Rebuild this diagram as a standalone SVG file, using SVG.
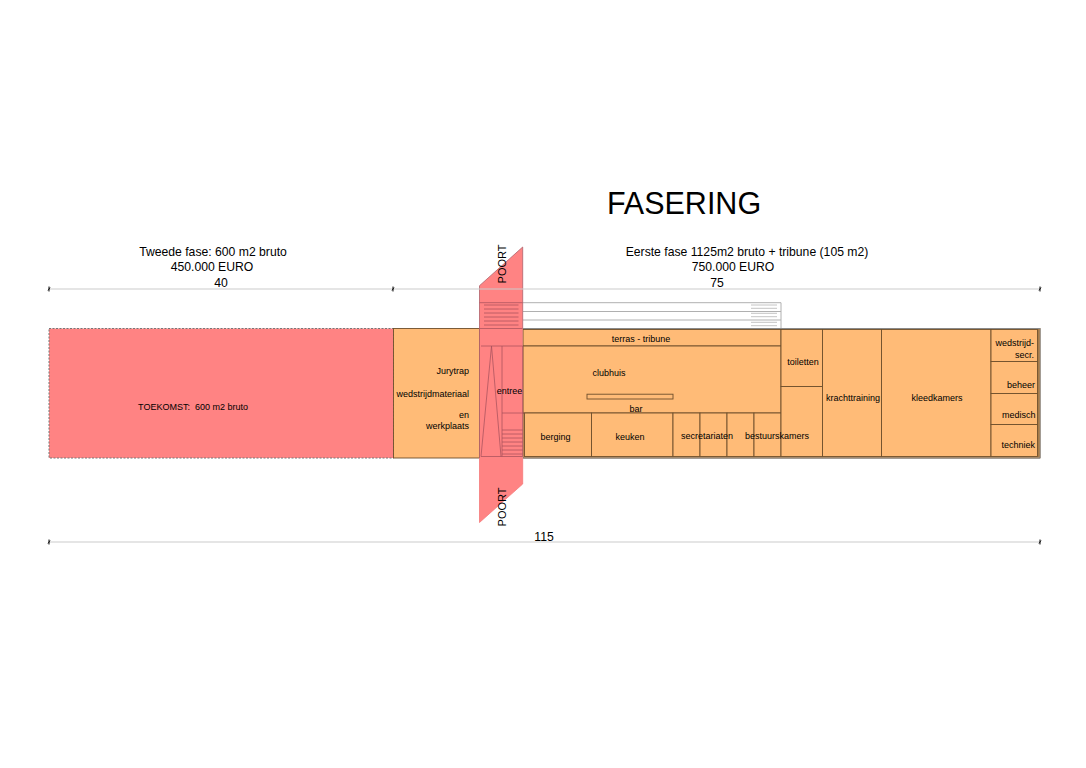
<svg xmlns="http://www.w3.org/2000/svg" width="1086" height="768" viewBox="0 0 1086 768">
<style>
text{font-family:"Liberation Sans",Arial,sans-serif;fill:#000;text-anchor:middle}
.s{font-size:9px}
.m{font-size:12.2px}
.p{font-size:11px}
.e{text-anchor:end}
.room{fill:#ffbb77;stroke:#6e4f2c;stroke-width:.9}
.red{fill:#ff8383}
.rl{fill:none;stroke:#a8525c;stroke-width:.75}
.dim{stroke:#cccccc;stroke-width:1.2;fill:none}
.tick{stroke:#111;stroke-width:1;fill:none}
.tr{stroke:#b0b0b0;stroke-width:1;fill:none}
.st{stroke:#c4c4c4;stroke-width:1;fill:none}
</style>
<g id="toekomst">
<rect x="49" y="328.5" width="344.500" height="129.500" class="red"/>
<rect x="49" y="328.5" width="344.500" height="129.500" fill="none" stroke="#777" stroke-width="1" stroke-dasharray="2 1.500"/>
<text class="s" x="193" y="410" xml:space="preserve">TOEKOMST:  600 m2 bruto</text>
</g>
<g id="jurytrap">
<rect x="393.500" y="328.500" width="86" height="129.500" class="room"/>
<text class="s e" x="469" y="374">Jurytrap</text>
<text class="s e" x="469" y="396.500">wedstrijdmateriaal</text>
<text class="s e" x="469" y="418">en</text>
<text class="s e" x="469" y="428.500">werkplaats</text>
</g>
<g id="hoofdvolume">
<rect x="523" y="328.500" width="517" height="129.500" class="room" stroke-width="1.200"/>
<path d="M523 328.500H1040V458H523" fill="none" stroke="#8a8a8a" stroke-width="1"/>
<path d="M1038.500 329V457" stroke="#a57a48" stroke-width="2" fill="none"/>
</g>
<g id="tribune-trappen">
<path class="tr" d="M523 302.700H781V328M523 311.500H781M523 320H781"/>
<path class="st" d="M751 305H777M751 308.300H777M751 313.300H777M751 316.700H777M751 322.300H777M751 325.700H777"/>
</g>
<g id="terras">
<rect x="523" y="329.500" width="258" height="16.500" class="room"/>
<text class="s" x="641" y="342">terras - tribune</text>
</g>
<g id="clubhuis">
<rect x="523" y="346" width="258" height="67" class="room"/>
<text class="s" x="609" y="376">clubhuis</text>
<rect x="587" y="394.200" width="86" height="4.800" class="room"/>
<text class="s" x="636" y="412">bar</text>
</g>
<g id="berging"><rect x="524.500" y="413" width="67" height="43.500" class="room"/><text class="s" x="555.500" y="439.500">berging</text></g>
<g id="keuken"><rect x="591.500" y="413" width="81.500" height="43.500" class="room"/><text class="s" x="630" y="439.500">keuken</text></g>
<g id="secretariaat-1"><rect x="673" y="413" width="27" height="43.500" class="room"/></g>
<g id="secretariaat-2"><rect x="700" y="413" width="27" height="43.500" class="room"/></g>
<g id="bestuur-1"><rect x="727" y="413" width="27" height="43.500" class="room"/></g>
<g id="bestuur-2"><rect x="754" y="413" width="27" height="43.500" class="room"/></g>
<g id="toiletten"><rect x="781" y="329.500" width="41.500" height="57" class="room"/><text class="s" x="803" y="364.500">toiletten</text></g>
<g id="bestuurskamers"><rect x="781" y="386.500" width="41.500" height="70" class="room"/><text class="s" x="777" y="439">bestuurskamers</text></g>
<g id="secretariaten-label"><text class="s" x="707" y="439">secretariaten</text></g>
<g id="krachttraining"><rect x="822.500" y="329.500" width="59" height="127" class="room"/><text class="s" x="853" y="401">krachttraining</text></g>
<g id="kleedkamers"><rect x="881.500" y="329.500" width="109.500" height="127" class="room"/><text class="s" x="937" y="401">kleedkamers</text></g>
<g id="wedstrijdsecr"><rect x="991" y="329.500" width="46.500" height="32" class="room"/><text class="s e" x="1034" y="346">wedstrijd-</text><text class="s e" x="1034" y="357.500">secr.</text></g>
<g id="beheer"><rect x="991" y="361.500" width="46.500" height="32" class="room"/><text class="s e" x="1035" y="388">beheer</text></g>
<g id="medisch"><rect x="991" y="393.500" width="46.500" height="31" class="room"/><text class="s e" x="1035.500" y="417.500">medisch</text></g>
<g id="techniek"><rect x="991" y="424.500" width="46.500" height="32" class="room"/><text class="s e" x="1035" y="447.500">techniek</text></g>
<g id="poort">
<polygon class="red" points="479.500,285.700 522.700,247 522.700,484 479.500,522.500"/>
<path d="M479.500 285.700L522.700 247V328M479.500 285.700V458" fill="none" stroke="#b0616a" stroke-width=".8"/>
<path d="M479.500 458V522.500L522.700 484V458" fill="none" stroke="#f57a7a" stroke-width=".8"/>
<path class="rl" d="M479.500 302.700H522.700M484 305H518.500M484 309H518.500M484 313H518.500M484 317H518.500M484 321H518.500M484 325H518.500M479.500 328.500H522.700M481 346H522.700M502 346V456.500M522.700 346V456.500M491.500 346L481 456.500M491.500 346L501 456.500M502 413H524.500M502 430H522.700M502 434H522.700M502 438H522.700M502 442H522.700M502 446H522.700M502 450H522.700M502 454H522.700M481 456.500H522.700"/>
<text class="p" transform="translate(505.500 264) rotate(-90)" x="0" y="0">POORT</text>
<text class="p" transform="translate(505.500 507) rotate(-90)" x="0" y="0">POORT</text>
<text class="s" x="509.500" y="394">entree</text>
</g>
<g id="connectors">
<path class="dim" d="M49 289H1040M49 542H1040"/>
<path class="tick" d="M49 286.500V291.500M48 290.500L50 287.500M393 286.500V291.500M392 290.500L394 287.500M1040 286.500V291.500M1039 290.500L1041 287.500M49 539.500V544.500M48 543.500L50 540.500M1040 539.500V544.500M1039 543.500L1041 540.500"/>
</g>
<g id="titels">
<text x="684" y="214" font-size="30.500">FASERING</text>
<text class="m" x="213" y="256">Tweede fase: 600 m2 bruto</text>
<text class="m" x="212" y="271">450.000 EURO</text>
<text class="m" x="747" y="256">Eerste fase 1125m2 bruto + tribune (105 m2)</text>
<text class="m" x="733" y="271">750.000 EURO</text>
<text class="m" x="221" y="287">40</text>
<text class="m" x="717" y="287">75</text>
<text class="m" x="544" y="541">115</text>
</g>
</svg>
